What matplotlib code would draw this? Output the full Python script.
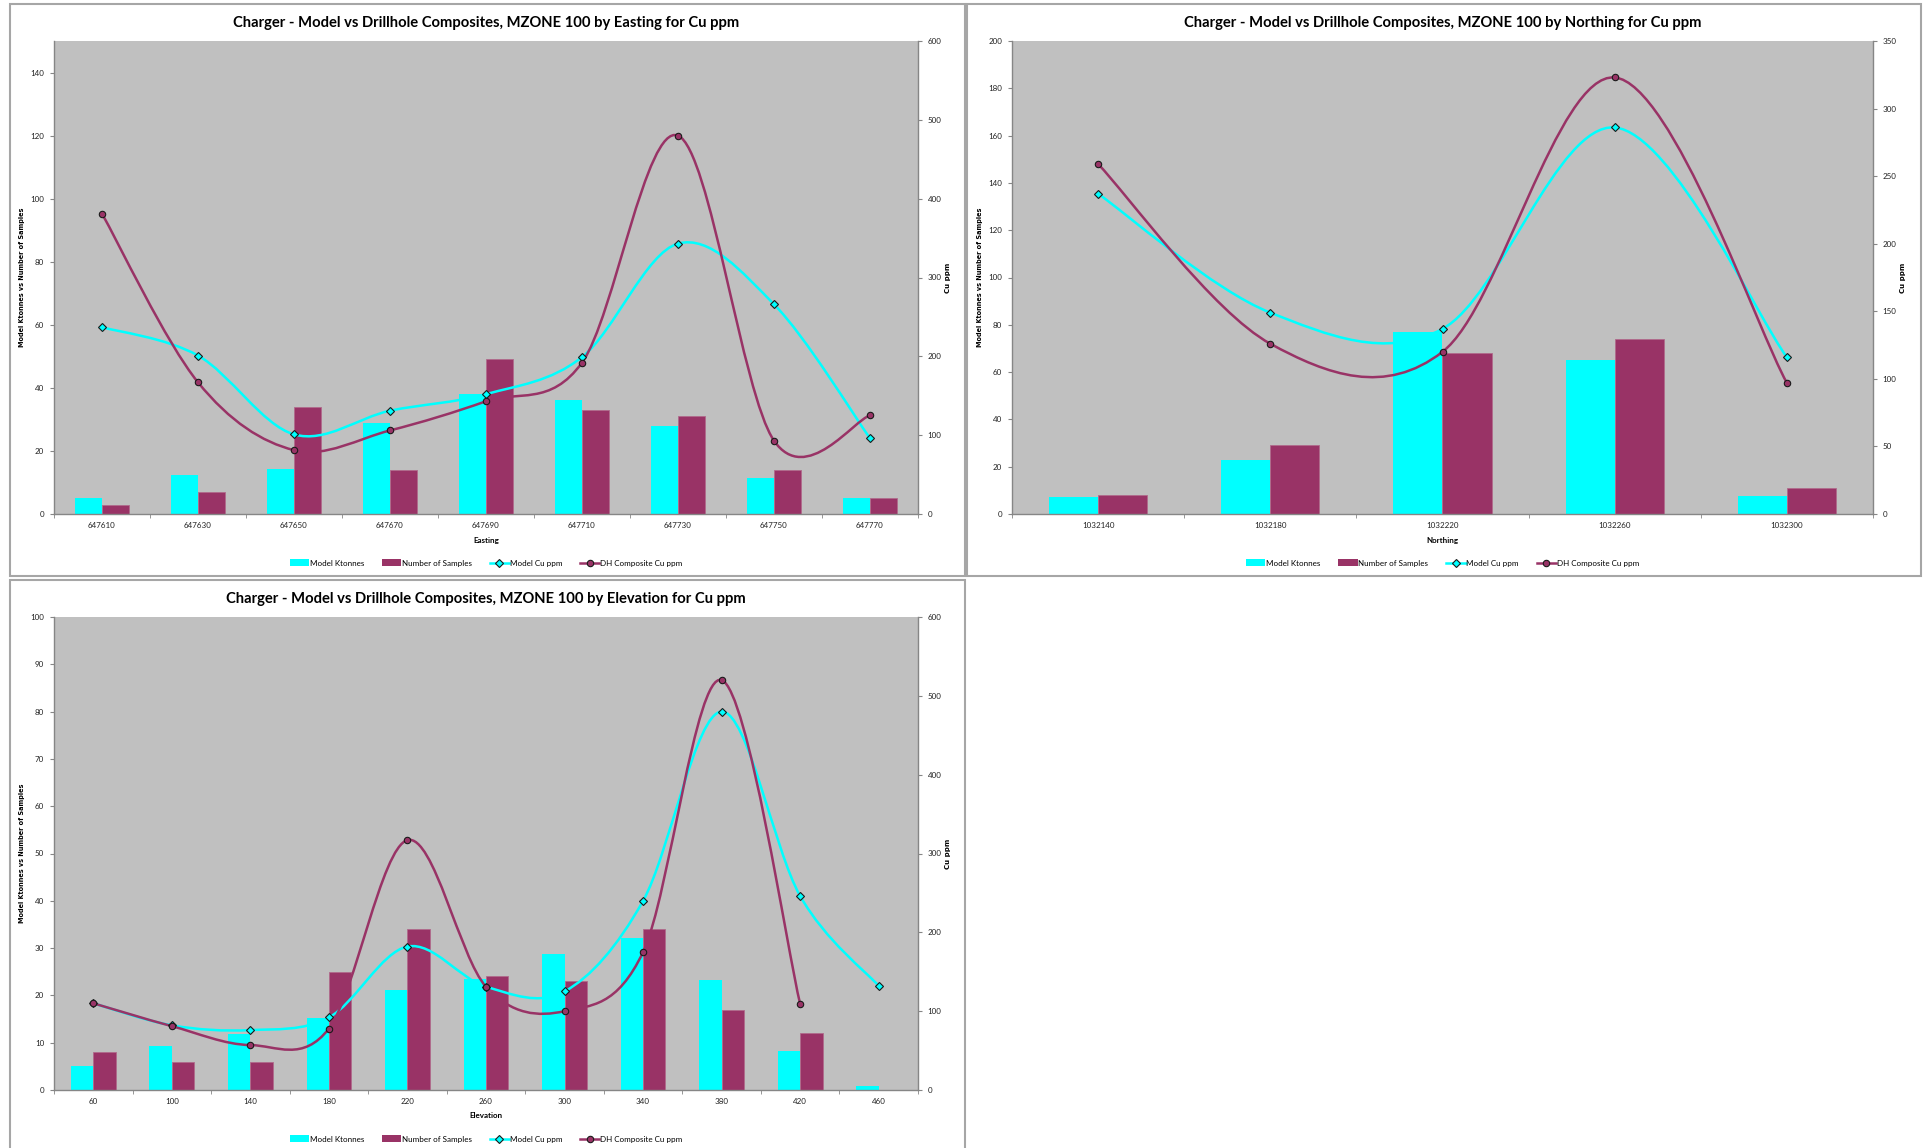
import numpy as np
import matplotlib
matplotlib.use('Agg')
import matplotlib.pyplot as plt
from matplotlib.path import Path
from matplotlib.patches import PathPatch, Patch, Rectangle
from matplotlib.lines import Line2D

# Data - Easting
easting = ['647610', '647630', '647650', '647670', '647690', '647710', '647730', '647750', '647770']
e_ktonnes = [5, 12.5, 14.2, 29, 38, 36, 28, 11.5, 5]
e_samples = [3, 7, 34, 14, 49, 33, 31, 14, 5]
e_model_cu = [237, 201, 101, 131, 152, 199, 343, 266, 96]
e_dh_cu = [381, 167, 81, 106, 143, 192, 480, 93, 125]

# Data - Northing
northing = ['1032140', '1032180', '1032220', '1032260', '1032300']
n_ktonnes = [7, 23, 77, 65, 7.5]
n_samples = [8, 29, 68, 74, 11]
n_model_cu = [237, 149, 137, 286, 116]
n_dh_cu = [259, 126, 120, 323, 97]

# Data - Elevation
elevation = ['60', '100', '140', '180', '220', '260', '300', '340', '380', '420', '460']
z_ktonnes = [5, 9.2, 11.8, 15.3, 21.2, 23.5, 28.8, 32.2, 23.2, 8.2, 0.8]
z_samples = [8, 6, 6, 25, 34, 24, 23, 34, 17, 12, np.nan]
z_model_cu = [110, 82, 76, 92, 182, 131, 125, 240, 480, 246, 132]
z_dh_cu = [110, 81, 57, 78, 317, 131, 100, 175, 520, 109, np.nan]

CYAN = '#00FFFF'
PLUM = '#993366'
GRID_BG = '#C0C0C0'
AXIS_GREY = '#868686'
FONT = 'Lato'

W, H = 1923, 1148
fig = plt.figure(figsize=(W / 100, H / 100), dpi=100)
fig.patch.set_facecolor('white')


def px_axes(l, t, r, b):
    return fig.add_axes([l / W, 1 - b / H, (r - l) / W, (b - t) / H])


def smooth_path(x, y):
    # Excel-style smoothed line: Catmull-Rom as cubic Bezier
    pts = np.array([(a, b) for a, b in zip(x, y) if not np.isnan(b)], dtype=float)
    n = len(pts)
    verts = [pts[0]]
    codes = [Path.MOVETO]
    for i in range(n - 1):
        p0 = pts[i - 1] if i > 0 else pts[i]
        p1 = pts[i]
        p2 = pts[i + 1]
        p3 = pts[i + 2] if i + 2 < n else pts[i + 1]
        verts += [p1 + (p2 - p0) / 6, p2 - (p3 - p1) / 6, p2]
        codes += [Path.CURVE4] * 3
    return Path(verts, codes)


def panel(frame, box, title, title_y, cats, kt, samp, mcu, dhcu,
          yl, yl_step, yr, yr_step, xlabel, xlabel_y, legend_y):
    fl, ft, fr, fb = frame
    fig.patches.append(Rectangle((fl / W, 1 - fb / H), (fr - fl) / W, (fb - ft) / H,
                                 transform=fig.transFigure, fill=False,
                                 edgecolor='#A6A6A6', linewidth=1.5))
    ax = px_axes(*box)
    ax.set_facecolor(GRID_BG)
    x = np.arange(len(cats))
    w = 0.285
    ax.bar(x - w / 2, kt, width=w, color=CYAN, zorder=2)
    ax.bar(x + w / 2, samp, width=w, color=PLUM, edgecolor='#B06A8C', linewidth=0.6, zorder=2)
    ax.set_xlim(-0.5, len(cats) - 0.5)
    ax.set_ylim(0, yl)
    ax.set_yticks(np.arange(0, yl + 0.01, yl_step))
    ax.set_xticks(x)
    ax.set_xticklabels(cats)
    ax.set_xticks(np.arange(-0.5, len(cats), 1.0), minor=True)
    ax.tick_params(axis='x', which='major', length=0, pad=6, labelsize=5.8)
    ax.tick_params(axis='x', which='minor', length=3, color=AXIS_GREY, direction='out')
    ax.tick_params(axis='y', length=3, color=AXIS_GREY, labelsize=5.8, pad=4)
    for lab in ax.get_xticklabels() + ax.get_yticklabels():
        lab.set_fontfamily(FONT)
        lab.set_color('#222222')
    for s in ['top', 'right']:
        ax.spines[s].set_visible(False)
    for s in ['left', 'bottom']:
        ax.spines[s].set_color(AXIS_GREY)
        ax.spines[s].set_linewidth(1)
    ax.set_ylabel('Model Ktonnes vs Number of Samples', fontsize=4.7, fontweight='bold',
                  family='DejaVu Sans', labelpad=4)

    ax2 = ax.twinx()
    ax2.set_ylim(0, yr)
    ax2.set_yticks(np.arange(0, yr + 0.01, yr_step))
    ax2.tick_params(axis='y', length=3, color=AXIS_GREY, labelsize=5.8, pad=4)
    for lab in ax2.get_yticklabels():
        lab.set_fontfamily(FONT)
        lab.set_color('#222222')
    for s in ['top', 'left', 'bottom']:
        ax2.spines[s].set_visible(False)
    ax2.spines['right'].set_color(AXIS_GREY)
    ax2.spines['right'].set_linewidth(1)
    ax2.set_ylabel('Cu ppm', fontsize=5, fontweight='bold', family='DejaVu Sans',
                   rotation=90, labelpad=2)

    ax2.add_patch(PathPatch(smooth_path(x, mcu), fill=False, edgecolor=CYAN, linewidth=1.8, zorder=3))
    ax2.add_patch(PathPatch(smooth_path(x, dhcu), fill=False, edgecolor=PLUM, linewidth=1.8, zorder=4))
    ax2.plot(x, mcu, linestyle='none', marker='D', markersize=3.6, markerfacecolor=CYAN,
             markeredgecolor='#1a1a1a', markeredgewidth=0.8, zorder=5)
    ax2.plot(x, dhcu, linestyle='none', marker='o', markersize=4.6, markerfacecolor=PLUM,
             markeredgecolor='#1a1a1a', markeredgewidth=0.8, zorder=6)

    cx = (box[0] + box[2]) / 2 / W
    fig.text(cx, 1 - title_y / H, title, ha='center', va='center', fontsize=10.6,
             fontweight='bold', family=FONT)
    fig.text(cx, 1 - xlabel_y / H, xlabel, ha='center', va='center', fontsize=5.8,
             fontweight='bold', family=FONT)

    handles = [Patch(facecolor=CYAN, edgecolor='none'),
               Patch(facecolor=PLUM, edgecolor='none'),
               Line2D([], [], color=CYAN, lw=1.8, marker='D', markersize=3.6,
                      markerfacecolor=CYAN, markeredgecolor='#1a1a1a', markeredgewidth=0.8),
               Line2D([], [], color=PLUM, lw=1.8, marker='o', markersize=4.6,
                      markerfacecolor=PLUM, markeredgecolor='#1a1a1a', markeredgewidth=0.8)]
    labels = ['Model Ktonnes', 'Number of Samples', 'Model Cu ppm', 'DH Composite Cu ppm']
    fig.legend(handles, labels, loc='center', bbox_to_anchor=(cx, 1 - legend_y / H),
               ncol=4, frameon=False, prop={'family': FONT, 'size': 5.8},
               handlelength=2.4, handleheight=0.9, handletextpad=0.1, columnspacing=2.2)
    return ax


panel((10, 4, 965, 576), (54, 41, 918, 514),
      'Charger - Model vs Drillhole Composites, MZONE 100 by Easting for Cu ppm', 23,
      easting, e_ktonnes, e_samples, e_model_cu, e_dh_cu,
      150, 20, 600, 100, 'Easting', 540, 563)

panel((967, 4, 1921, 576), (1012, 41, 1873, 514),
      'Charger - Model vs Drillhole Composites, MZONE 100 by Northing for Cu ppm', 23,
      northing, n_ktonnes, n_samples, n_model_cu, n_dh_cu,
      200, 20, 350, 50, 'Northing', 540, 563)

panel((10, 580, 965, 1152), (54, 617, 918, 1090),
      'Charger - Model vs Drillhole Composites, MZONE 100 by Elevation for Cu ppm', 599,
      elevation, z_ktonnes, z_samples, z_model_cu, z_dh_cu,
      100, 10, 600, 100, 'Elevation', 1116, 1139)

fig.savefig('out.png', dpi=100, facecolor='white')
